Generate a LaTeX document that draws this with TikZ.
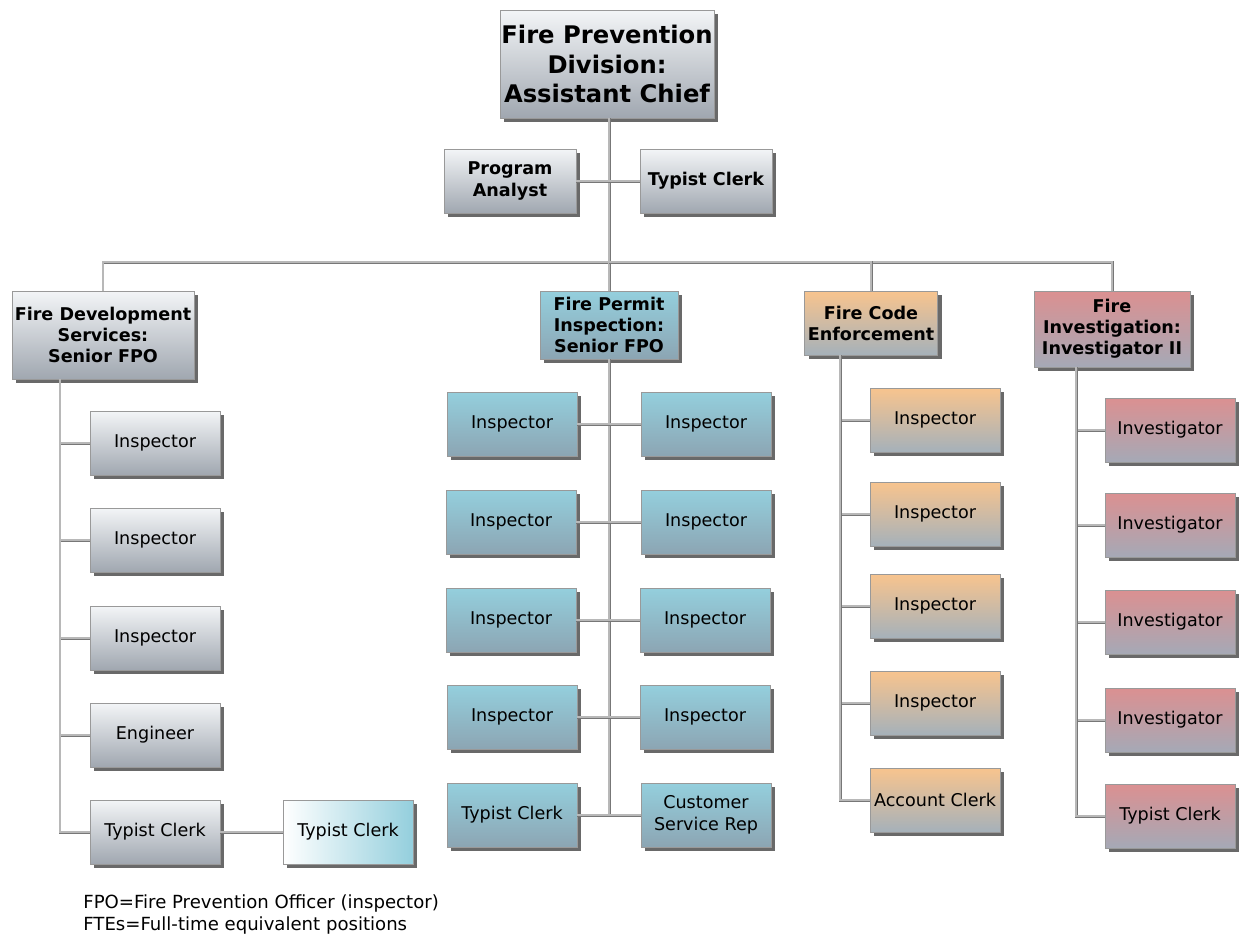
\documentclass[tikz,border=0pt]{standalone}
\usepackage{fontspec}
\setmainfont{DejaVu Sans}
\usetikzlibrary{shadows}

\definecolor{greytop}{HTML}{F3F5F7}
\definecolor{greybot}{HTML}{A0A7B0}
\definecolor{bluetop}{HTML}{94CFDD}
\definecolor{bluebot}{HTML}{8CA5B3}
\definecolor{orangetop}{HTML}{F8C48E}
\definecolor{orangebot}{HTML}{A5B1BA}
\definecolor{redtop}{HTML}{DB9091}
\definecolor{redbot}{HTML}{A5A9B6}
\definecolor{linkgrey}{HTML}{777777}
\definecolor{linkcore}{HTML}{B8B8B8}

\tikzset{
  box/.style={draw=gray!80, line width=0.4pt, inner sep=0pt, align=center,
    minimum width=2.6cm, minimum height=1.28cm,
    font=\fontsize{10}{12.5}\selectfont,
    drop shadow={shadow xshift=2.3pt, shadow yshift=-2.3pt, fill=black!65, opacity=0.9}},
  head/.style={box, font=\fontsize{10}{12}\selectfont\bfseries},
  greybox/.style={top color=greytop, bottom color=greybot},
  bluebox/.style={top color=bluetop, bottom color=bluebot},
  orangebox/.style={top color=orangetop, bottom color=orangebot},
  redbox/.style={top color=redtop, bottom color=redbot},
  link/.style={draw=linkgrey, line width=0.55pt, double=linkcore, double distance=0.6pt}
}

\begin{document}
\begin{tikzpicture}[x=0.02cm, y=-0.02cm]
            \useasboundingbox (0,0) rectangle (1243,941);

            % Drawing the head of the division
            \node [head, greybox, minimum width=4.28cm, minimum height=2.16cm,
                   font=\fontsize{13.8}{16.8}\selectfont\bfseries]
                  (chief) at (607,64) {Fire Prevention\\Division:\\Assistant Chief};
            \node [head, greybox, minimum width=2.64cm] (analyst) at (510,181) {Program\\Analyst};
            \node [head, greybox, minimum width=2.64cm] (chiefclerk) at (706,181) {Typist Clerk};

            % Drawing the four sections
            \node [head, greybox, minimum width=3.64cm, minimum height=1.76cm]
                  (devhead) at (103,335) {Fire Development\\Services:\\Senior FPO};
            \node [head, bluebox, minimum width=2.76cm, minimum height=1.36cm]
                  (permhead) at (609,325) {Fire Permit\\Inspection:\\Senior FPO};
            \node [head, orangebox, minimum width=2.66cm]
                  (codehead) at (871,323) {Fire Code\\Enforcement};
            \node [head, redbox, minimum width=3.12cm, minimum height=1.52cm]
                  (invhead) at (1112,329) {Fire\\Investigation:\\Investigator II};

            % Drawing Fire Development Services staff
            \node [box, greybox] (dev1) at (155,443) {Inspector};
            \node [box, greybox] (dev2) at (155,540) {Inspector};
            \node [box, greybox] (dev3) at (155,638) {Inspector};
            \node [box, greybox] (dev4) at (155,735) {Engineer};
            \node [box, greybox] (dev5) at (155,832) {Typist Clerk};
            \node [box, left color=white, right color=bluetop] (dev6) at (348,832) {Typist Clerk};

            % Drawing Fire Permit Inspection staff
            \node [box, bluebox] (per1l) at (512,424) {Inspector};
            \node [box, bluebox] (per1r) at (706,424) {Inspector};
            \node [box, bluebox] (per2l) at (511,522) {Inspector};
            \node [box, bluebox] (per2r) at (706,522) {Inspector};
            \node [box, bluebox] (per3l) at (511,620) {Inspector};
            \node [box, bluebox] (per3r) at (705,620) {Inspector};
            \node [box, bluebox] (per4l) at (512,717) {Inspector};
            \node [box, bluebox] (per4r) at (705,717) {Inspector};
            \node [box, bluebox] (per5l) at (512,815) {Typist Clerk};
            \node [box, bluebox] (per5r) at (706,815) {Customer\\Service Rep};

            % Drawing Fire Code Enforcement staff
            \node [box, orangebox] (code1) at (935,420) {Inspector};
            \node [box, orangebox] (code2) at (935,514) {Inspector};
            \node [box, orangebox] (code3) at (935,606) {Inspector};
            \node [box, orangebox] (code4) at (935,703) {Inspector};
            \node [box, orangebox] (code5) at (935,800) {Account Clerk};

            % Drawing Fire Investigation staff
            \node [box, redbox] (inv1) at (1170,430) {Investigator};
            \node [box, redbox] (inv2) at (1170,525) {Investigator};
            \node [box, redbox] (inv3) at (1170,622) {Investigator};
            \node [box, redbox] (inv4) at (1170,720) {Investigator};
            \node [box, redbox] (inv5) at (1170,816) {Typist Clerk};

            % Marking the branch points
            \coordinate (bus) at (609,262);
            \coordinate (devtop) at (60,379);
            \coordinate (codetop) at (840,355);
            \coordinate (invtop) at (1076,367);

            % Drawing lines from the head
            \draw [link] (chief.south -| bus) -- (bus);
            \draw [link] (analyst.east) -- (chiefclerk.west);
            \draw [link] (bus) -| (devhead.north);
            \draw [link] (bus) -| (invhead.north);
            \draw [link] (bus) -- (permhead.north);
            \draw [link] (bus) -| (codehead.north);

            % Drawing lines in Fire Development Services
            \foreach \n in {1,...,5}
              \draw [link] (devtop) |- (dev\n.west);%
            \draw [link] (dev5.east) -- (dev6.west);

            % Drawing lines in Fire Permit Inspection
            \draw [link] (permhead.south) -- (permhead.south |- per5l.east);
            \foreach \n in {1,...,5}
              \draw [link] (per\n l.east) -- (per\n r.west);%

            % Drawing lines in Fire Code Enforcement
            \foreach \n in {1,...,5}
              \draw [link] (codetop) |- (code\n.west);%

            % Drawing lines in Fire Investigation
            \foreach \n in {1,...,5}
              \draw [link] (invtop) |- (inv\n.west);%

            % Marking the legend
            \node [anchor=west, inner sep=0pt, font=\fontsize{10.3}{12}\selectfont]
                  (legend1) at (83,903) {FPO=Fire Prevention Officer (inspector)};
            \node [anchor=west, inner sep=0pt, font=\fontsize{10.3}{12}\selectfont]
                  (legend2) at (83,925) {FTEs=Full-time equivalent positions};
\end{tikzpicture}
\end{document}
